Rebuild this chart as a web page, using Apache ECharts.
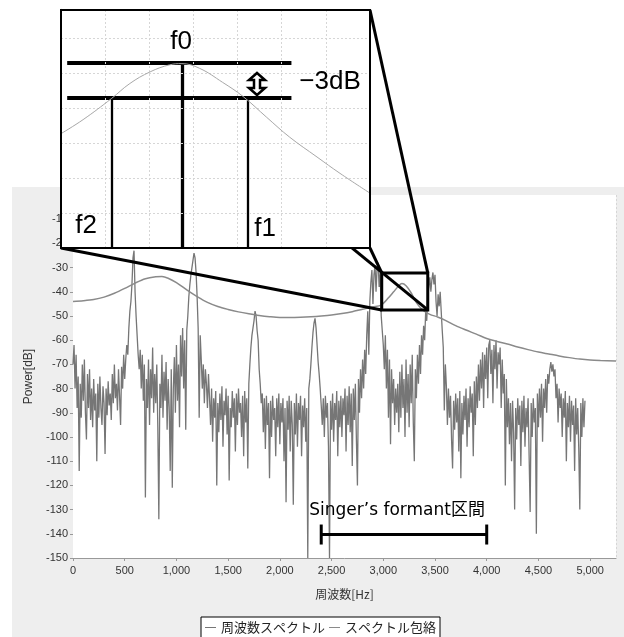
<!DOCTYPE html>
<html>
<head>
<meta charset="utf-8">
<script src="https://cdn.jsdelivr.net/npm/echarts@6/dist/echarts.min.js"></script>
<style>
  html, body { margin: 0; padding: 0; background: #fff; }
  #panel { position: absolute; left: 12px; top: 187px; width: 612px; height: 450px; background: #eeeeee; }
  #main { position: absolute; left: 0; top: 0; width: 624px; height: 637px; }
</style>
</head>
<body>
<div id="panel"></div>
<div id="main"></div>
<script>
// スペクトル: 0Hz から 10Hz 刻み
var freqStep = 10;
var spectrumDb = [
  -70,-62,-80,-66,-88,-75,-114,-78,-92,-70,
  -85,-68,-90,-101,-74,-88,-72,-93,-80,-96,
  -76,-89,-82,-110,-78,-92,-75,-88,-95,-79,
  -86,-107,-80,-91,-77,-87,-82,-93,-74,-86,
  -70,-84,-78,-89,-72,-83,-95,-71,-80,-66,
  -76,-68,-62,-66,-55,-48,-44,-37,-26,-23,
  -40,-50,-58,-66,-72,-64,-80,-66,-85,-70,
  -125,-76,-88,-68,-95,-72,-84,-63,-90,-74,
  -86,-70,-96,-134,-78,-88,-66,-92,-73,-85,
  -69,-97,-76,-88,-114,-72,-121,-80,-67,-90,
  -62,-85,-70,-96,-58,-75,-55,-80,-60,-97,
  -56,-50,-42,-37,-33,-30,-27,-24,-26,-32,
  -42,-55,-92,-58,-68,-80,-70,-86,-72,-78,
  -88,-74,-84,-95,-80,-102,-84,-92,-81,-120,
  -86,-98,-82,-93,-79,-104,-85,-91,-80,-99,
  -83,-118,-88,-96,-81,-92,-84,-106,-82,-95,
  -80,-90,-86,-100,-83,-108,-81,-94,-84,-113,
  -78,-70,-63,-58,-55,-52,-48,-50,-56,-60,
  -72,-78,-86,-82,-98,-84,-105,-83,-95,-86,
  -117,-85,-100,-83,-93,-88,-108,-84,-96,-82,
  -103,-86,-94,-84,-110,-88,-127,-85,-97,-83,
  -106,-85,-95,-128,-86,-99,-82,-104,-86,-93,
  -83,-108,-87,-96,-84,-102,-88,-150,-80,-76,
  -70,-63,-57,-53,-51,-55,-62,-69,-74,-80,
  -87,-95,-84,-100,-83,-92,-86,-104,-150,-85,
  -97,-82,-102,-86,-93,-81,-108,-85,-96,-83,
  -100,-84,-91,-80,-106,-83,-95,-79,-98,-82,
  -112,-80,-93,-78,-101,-120,-76,-90,-72,-84,
  -68,-80,-64,-74,-58,-48,-66,-44,-36,-31,
  -45,-33,-29,-40,-30,-28,-38,-32,-50,-56,
  -62,-72,-58,-80,-64,-92,-68,-103,-72,-86,
  -76,-95,-80,-90,-78,-98,-73,-92,-70,-88,
  -76,-100,-68,-90,-74,-96,-70,-86,-66,-94,
  -110,-72,-84,-66,-78,-62,-74,-58,-66,-54,
  -60,-48,-52,-42,-38,-34,-40,-35,-32,-37,
  -33,-44,-50,-41,-46,-40,-48,-56,-63,-89,
  -70,-79,-95,-80,-92,-83,-101,-113,-85,-97,
  -82,-94,-84,-106,-81,-117,-86,-99,-83,-93,
  -80,-104,-84,-96,-79,-90,-82,-108,-77,-95,
  -75,-88,-70,-85,-68,-80,-65,-88,-66,-76,
  -63,-84,-62,-60,-74,-64,-86,-62,-72,-60,
  -80,-65,-70,-63,-88,-68,-82,-74,-120,-76,
  -96,-84,-103,-86,-110,-85,-98,-130,-88,-101,
  -84,-95,-87,-112,-85,-98,-83,-104,-88,-96,
  -84,-108,-131,-86,-100,-84,-94,-88,-140,-82,
  -96,-80,-92,-78,-102,-80,-88,-76,-90,-74,
  -78,-72,-69,-73,-70,-75,-72,-84,-78,-94,
  -80,-88,-82,-100,-84,-92,-81,-110,-86,-96,
  -83,-102,-85,-95,-87,-114,-84,-99,-88,-105,
  -130,-86,-100,-84,-96,-85
];

// スペクトル包絡
var envFreq = [0,100,200,300,400,500,600,700,800,860,920,1000,1100,1200,1300,1400,1500,1600,1700,1800,1900,2000,2100,2200,2300,2400,2500,2600,2700,2800,2900,2980,3050,3100,3150,3180,3220,3270,3320,3380,3450,3525,3600,3700,3800,3900,4000,4100,4200,4300,4400,4500,4600,4700,4800,4900,5000,5100,5250];
var envDb = [-44.0,-43.7,-43.2,-42.2,-40.6,-38.6,-36.4,-34.6,-33.8,-33.7,-34.4,-36.2,-39.2,-42.0,-44.4,-46.1,-47.3,-48.3,-49.1,-49.8,-50.3,-50.6,-50.6,-50.5,-50.3,-50.0,-49.6,-49.0,-48.2,-47.2,-46.3,-45.5,-42.5,-40.0,-37.5,-36.6,-37.5,-40.5,-44.5,-47.5,-49.3,-50.4,-51.8,-54.0,-55.8,-57.5,-59.3,-60.5,-61.6,-62.8,-63.9,-64.9,-65.7,-66.5,-67.2,-67.8,-68.2,-68.4,-68.6];

// 拡大図の包絡
var insetFreq = [3000,3025,3057,3078,3101,3123,3137,3157,3183,3206,3233,3259,3290,3316,3350];
var insetDb = [-11.2,-10.0,-8.2,-6.9,-5.9,-5.3,-5.2,-5.6,-6.8,-8.0,-9.8,-11.5,-13.2,-14.6,-16.3];

// 注釈
var f0 = 3137, f1 = 3211, f2 = 3057;
var peakDb = -5.14, halfDb = -8.14;
var hLine = [3007, 3261];
var boxFreq = [2985, 3430];
var boxDb = [-32.2, -47.5];
var formantFreq = [2400, 4000];
var formantDb = -140.3;

var inset = { left: 61, top: 10, width: 309, height: 238 };

var spectrum = spectrumDb.map(function (v, i) { return [i * freqStep, v]; });
var envelope = envFreq.map(function (f, i) { return [f, envDb[i]]; });
var insetCurve = insetFreq.map(function (f, i) { return [f, insetDb[i]]; });

var chart = echarts.init(document.getElementById('main'));

var gridLine = { lineStyle: { color: '#d6d6d6', type: [2, 2], width: 1 } };

var option = {
  animation: false,
  backgroundColor: 'transparent',
  textStyle: { fontFamily: 'Liberation Sans, Arial, sans-serif' },
  grid: [
    { left: 73, top: 195, right: 8, bottom: 79, show: true, backgroundColor: '#fff', borderWidth: 0, outerBoundsMode: 'none', z: 1 },
    { left: inset.left, top: inset.top, width: inset.width, height: inset.height, show: true,
      backgroundColor: '#fff', borderWidth: 0, outerBoundsMode: 'none', z: 5 }
  ],
  xAxis: [
    { type: 'value', gridIndex: 0, min: 0, max: 5250, interval: 500,
      name: '周波数[Hz]', nameLocation: 'middle', nameGap: 30,
      nameTextStyle: { color: '#333', fontSize: 12, fontFamily: 'Noto Sans CJK JP' },
      axisLine: { show: true, onZero: false, lineStyle: { color: '#999' } },
      axisTick: { show: true, length: 3, lineStyle: { color: '#999' } },
      axisLabel: { color: '#333', fontSize: 11, margin: 7, showMaxLabel: false,
        formatter: function (v) { return v.toLocaleString('en-US'); } },
      splitLine: gridLine },
    { type: 'value', gridIndex: 1, min: 3000, max: 3350, interval: 50, z: 6,
      axisLine: { show: false }, axisTick: { show: false }, axisLabel: { show: false },
      splitLine: gridLine }
  ],
  yAxis: [
    { type: 'value', gridIndex: 0, min: -150, max: 0, interval: 10,
      name: 'Power[dB]', nameLocation: 'middle', nameGap: 31, nameRotate: 90,
      nameTextStyle: { color: '#333', fontSize: 12 },
      axisLine: { show: true, onZero: false, lineStyle: { color: '#999' } },
      axisTick: { show: true, length: 3, lineStyle: { color: '#999' } },
      axisLabel: { color: '#333', fontSize: 11, margin: 5 },
      splitLine: gridLine },
    { type: 'value', gridIndex: 1, min: -21, max: -0.6, interval: 3, z: 6,
      axisLine: { show: false }, axisTick: { show: false }, axisLabel: { show: false },
      splitLine: gridLine }
  ],
  legend: {
    left: 201, top: 617, padding: [4, 4, 6, 4], itemGap: 4, itemWidth: 11, itemHeight: 1, icon: 'rect',
    borderColor: '#000', borderWidth: 1, backgroundColor: '#fff', borderRadius: 0,
    textStyle: { fontSize: 13, color: '#222', fontFamily: 'Noto Sans CJK JP' },
    data: ['周波数スペクトル', 'スペクトル包絡']
  },
  series: [
    { name: '周波数スペクトル', type: 'line', xAxisIndex: 0, yAxisIndex: 0, data: spectrum,
      symbol: 'none', lineStyle: { color: '#767676', width: 1.3 }, itemStyle: { color: '#767676' }, z: 2 },
    { name: 'スペクトル包絡', type: 'line', xAxisIndex: 0, yAxisIndex: 0, data: envelope, smooth: 0.3,
      symbol: 'none', lineStyle: { color: '#8a8a8a', width: 1.5 }, itemStyle: { color: '#8a8a8a' }, z: 2 },
    { type: 'line', xAxisIndex: 1, yAxisIndex: 1, data: insetCurve, smooth: 0.4,
      symbol: 'none', lineStyle: { color: '#a8a8a8', width: 1 }, z: 7,
      markLine: {
        silent: true, symbol: ['none', 'none'], label: { show: false },
        lineStyle: { color: '#000', type: 'solid' },
        data: [
          [{ coord: [hLine[0], peakDb], lineStyle: { color: '#000', type: 'solid', width: 4 } }, { coord: [hLine[1], peakDb] }],
          [{ coord: [hLine[0], halfDb], lineStyle: { color: '#000', type: 'solid', width: 4 } }, { coord: [hLine[1], halfDb] }],
          [{ coord: [f0, peakDb], lineStyle: { color: '#000', type: 'solid', width: 3.3 } }, { coord: [f0, -21] }],
          [{ coord: [f2, halfDb], lineStyle: { color: '#000', type: 'solid', width: 2.3 } }, { coord: [f2, -21] }],
          [{ coord: [f1, halfDb], lineStyle: { color: '#000', type: 'solid', width: 2.3 } }, { coord: [f1, -21] }]
        ]
      } }
  ]
};
chart.setOption(option);

function px(f, db) { return chart.convertToPixel({ xAxisIndex: 0, yAxisIndex: 0 }, [f, db]); }
var bTL = px(boxFreq[0], boxDb[0]), bBR = px(boxFreq[1], boxDb[1]);
var iL = inset.left, iR = inset.left + inset.width, iT = inset.top, iB = inset.top + inset.height;
var fa = px(formantFreq[0], formantDb), fb = px(formantFreq[1], formantDb);

function seg(x1, y1, x2, y2, w, z) {
  return { type: 'line', z: z, silent: true, shape: { x1: x1, y1: y1, x2: x2, y2: y2 },
    style: { stroke: '#000', lineWidth: w } };
}
function txt(s, x, y, font, align) {
  return { type: 'text', z: 20, silent: true, x: x, y: y,
    style: { text: s, font: font, fill: '#000', align: align || 'center', verticalAlign: 'middle',
      textAlign: align || 'center', textVerticalAlign: 'middle' } };
}
var big = '26px "Liberation Sans", Arial, sans-serif';

// 両矢印 (白抜き)
var ax = 257, ay = 84;
var arrowPts = [[0,-11],[8,-4],[3,-4],[3,4],[8,4],[0,11],[-8,4],[-3,4],[-3,-4],[-8,-4]].map(function (p) {
  return [ax + p[0], ay + p[1]];
});

chart.setOption({
  graphic: [
    seg(iR, iT, bBR[0], bTL[1], 3, 3),
    seg(iR, iB, bTL[0], bTL[1], 3, 3),
    seg(iL, iT, bBR[0], bBR[1], 3, 3),
    seg(iL, iB, bTL[0], bBR[1], 3, 3),
    { type: 'rect', z: 3, silent: true,
      shape: { x: bTL[0], y: bTL[1], width: bBR[0] - bTL[0], height: bBR[1] - bTL[1] },
      style: { fill: null, stroke: '#000', lineWidth: 3 } },
    { type: 'rect', z: 15, silent: true,
      shape: { x: iL, y: iT, width: inset.width, height: inset.height },
      style: { fill: null, stroke: '#000', lineWidth: 2 } },
    txt('f0', 181, 42, big),
    txt('\u22123dB', 330, 82, big),
    txt('f1', 265, 229, big),
    txt('f2', 86, 226, big),
    { type: 'polygon', z: 20, silent: true, shape: { points: arrowPts },
      style: { fill: '#fff', stroke: '#000', lineWidth: 2.5, lineJoin: 'miter' } },
    seg(fa[0], fa[1], fb[0], fb[1], 3, 20),
    seg(fa[0], fa[1] - 10, fa[0], fa[1] + 10, 3, 20),
    seg(fb[0], fb[1] - 10, fb[0], fb[1] + 10, 3, 20),
    txt('Singer\u2019s formant区間', fa[0] - 12, fa[1] - 24, '17px "DejaVu Sans", "Noto Sans CJK JP", sans-serif', 'left')
  ]
});
</script>
</body>
</html>
